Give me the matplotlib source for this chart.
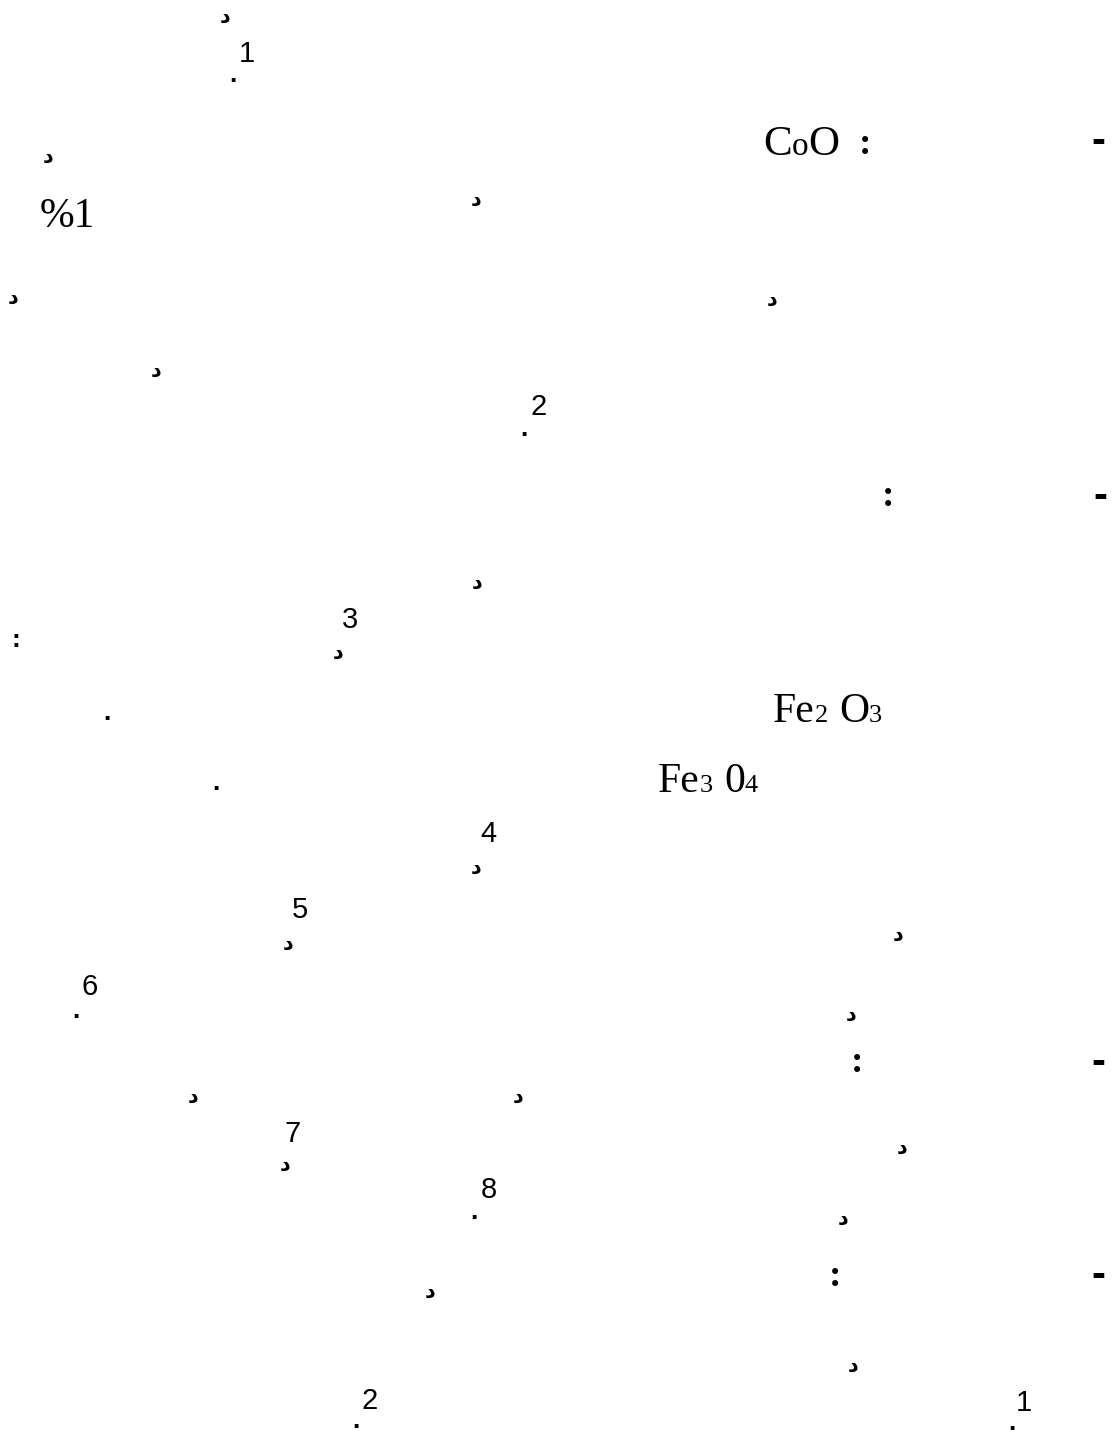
import matplotlib
matplotlib.use("Agg")
import matplotlib.pyplot as plt

W, H = 1112, 1439

# superscript note numbers, each with a mark under it
note_digits = ["1", "2", "3", "4", "5", "6", "7", "8", "2", "1"]
note_xy = [(247, 54), (539, 407), (350, 620), (488, 834), (300, 910),
           (90, 987), (293, 1134), (489, 1190), (370, 1401), (1024, 1403)]

# the small arabic letter left over from the text
dal = "د"
dal_xy = [(225, 17), (48, 157), (476, 200), (13, 298), (772, 300), (156, 371),
          (477, 583), (338, 653), (476, 868), (288, 944), (898, 935), (851, 1015),
          (193, 1097), (518, 1097), (285, 1165), (902, 1148), (843, 1219),
          (430, 1292), (853, 1366)]

# full stops
dot_xy = [(233, 82), (524, 436), (76, 1018), (474, 1219), (356, 1428),
          (1012, 1430), (107, 720), (216, 790)]

# heading colons and dashes
colon_xy = [(865, 145), (888, 497), (857, 1063), (835, 1276)]
dash_xy = [(1098, 142), (1100, 497), (1098, 1063), (1098, 1276)]
small_colon_xy = [(16, 640)]

# formulas: (text, size) pieces laid out left to right, baseline at y
formulas = [
    ((763, 155), [("C", 31), ("o", 24), ("O", 31)]),
    ((40, 227), [("%1", 30)]),
    ((773, 722), [("Fe", 30), ("2", 19), (" ", 11), ("O", 30), ("3", 19)]),
    ((658, 792), [("Fe", 30), ("3", 19), (" ", 11), ("0", 30), ("4", 19)]),
]

fig = plt.figure(figsize=(W / 100, H / 100), dpi=100)
ax = fig.add_axes([0, 0, 1, 1])
ax.set_xlim(0, W)
ax.set_ylim(H, 0)
ax.axis("off")
fig.canvas.draw()
renderer = fig.canvas.get_renderer()

sans = ["Liberation Sans Narrow", "Liberation Sans", "DejaVu Sans"]
serif = ["Liberation Serif", "DejaVu Serif"]

for d, (x, y) in zip(note_digits, note_xy):
    ax.text(x, y, d, fontsize=21, family=sans, ha="center", va="center")

for x, y in dal_xy:
    ax.text(x, y, dal, fontsize=15, family=["DejaVu Sans"], weight="bold",
            ha="center", va="center")

for x, y in dot_xy:
    ax.text(x, y, ".", fontsize=19, family=sans, weight="bold", ha="center", va="baseline")

for x, y in colon_xy:
    ax.text(x, y, ":", fontsize=27, family=serif, weight="bold", ha="center", va="center")

for x, y in small_colon_xy:
    ax.text(x, y, ":", fontsize=19, family=sans, weight="bold", ha="center", va="center")

for x, y in dash_xy:
    ax.text(x, y, "-", fontsize=30, family=["Liberation Sans", "DejaVu Sans"],
            weight="bold", ha="center", va="center")

for (x, y), parts in formulas:
    for txt, size in parts:
        if txt.strip() == "":
            x += size
            continue
        t = ax.text(x, y, txt, fontsize=size, family=serif, ha="left", va="baseline")
        x += t.get_window_extent(renderer).width

fig.savefig("out.png", dpi=100, facecolor="white")
